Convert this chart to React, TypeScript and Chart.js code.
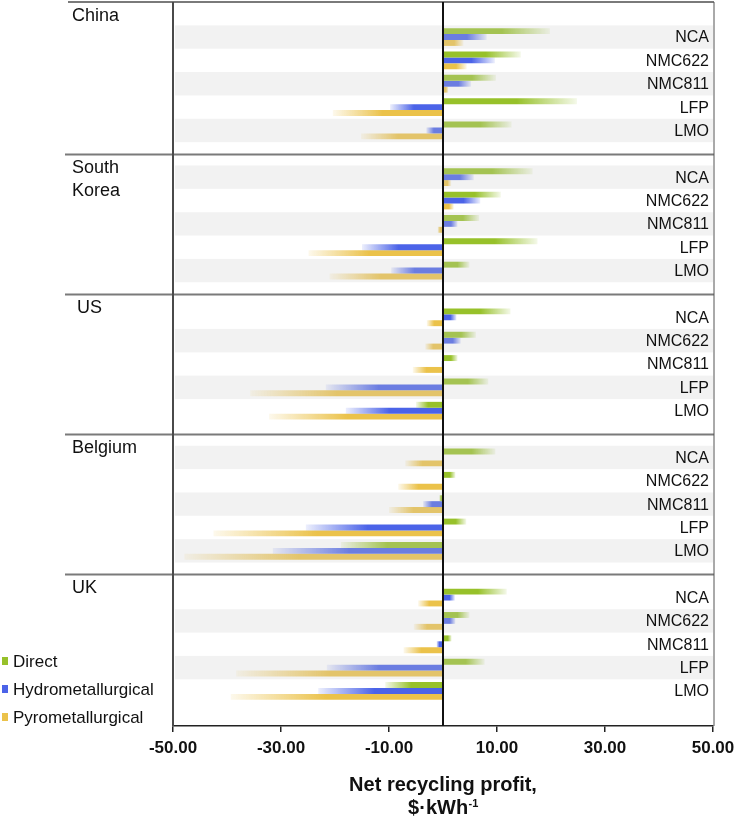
import { useEffect, useRef } from 'react';
import { Chart, registerables } from 'chart.js';

Chart.register(...registerables);

const countries = ['China', 'South Korea', 'US', 'Belgium', 'UK'];
const chemistries = ['NCA', 'NMC622', 'NMC811', 'LFP', 'LMO'];
const seriesNames = ['Direct', 'Hydrometallurgical', 'Pyrometallurgical'];

const direct = [
  19.8, 14.4, 9.8, 24.8, 12.7,
  16.6, 10.7, 6.7, 17.5, 4.9,
  12.5, 6.1, 2.7, 8.4, -5.0,
  9.7, 2.3, -0.7, 4.3, -18.9,
  11.8, 4.9, 1.6, 7.7, -10.7,
];
const hydro = [
  8.1, 9.6, 5.2, -9.8, -3.1,
  5.7, 6.9, 2.7, -15.0, -9.6,
  2.5, 3.3, -0.3, -21.7, -18.0,
  0, 0.2, -3.7, -25.4, -31.5,
  2.2, 2.3, -1.2, -21.5, -23.1,
];
const pyro = [
  3.8, 4.4, 1.0, -20.4, -15.2,
  1.5, 2.0, -1.0, -24.9, -21.0,
  -3.0, -3.3, -5.6, -35.7, -32.2,
  -7.0, -8.3, -10.0, -42.5, -47.9,
  -4.6, -5.4, -7.3, -38.3, -39.3,
];

const xTicks = [-50, -30, -10, 10, 30, 50];

const colors = [
  [151, 193, 42],
  [75, 99, 232],
  [235, 194, 74],
];

// which rows carry the grey band in each country block
const shaded = [
  [1, 0, 1, 0, 1],
  [1, 0, 1, 0, 1],
  [0, 1, 0, 1, 0],
  [1, 0, 1, 0, 1],
  [0, 1, 0, 1, 0],
];

const BLOCK = chemistries.length + 1;
const rowIndex = (c: number, k: number) => 1 + c * BLOCK + k;

// category axis: one blank slot before each country and one at the end
const labels: string[] = [];
for (let c = 0; c < countries.length; c++) {
  labels.push('gap' + c);
  chemistries.forEach((k) => labels.push(countries[c] + ' ' + k));
}
labels.push('gap' + countries.length);

function spread(values: number[]) {
  const out: (number | null)[] = labels.map(() => null);
  values.forEach((v, i) => {
    const c = Math.floor(i / chemistries.length);
    out[rowIndex(c, i % chemistries.length)] = v;
  });
  return out;
}

const rgba = (c: number[], a: number) => `rgba(${c[0]},${c[1]},${c[2]},${a})`;

function barFill(col: number[]) {
  return (ctx: any) => {
    const solid = rgba(col, 1);
    const x = ctx.chart.scales?.x;
    if (ctx.type !== 'data' || !x || ctx.raw == null) return solid;
    const x0 = x.getPixelForValue(0);
    const x1 = x.getPixelForValue(ctx.raw);
    if (!isFinite(x0) || !isFinite(x1) || Math.abs(x1 - x0) < 1) return solid;
    const g = ctx.chart.ctx.createLinearGradient(x0, 0, x1, 0);
    g.addColorStop(0, solid);
    g.addColorStop(0.55, solid);
    g.addColorStop(1, rgba(col, 0.1));
    return g;
  };
}

const FONT = '"Liberation Sans", Arial, sans-serif';

const decorPlugin = {
  id: 'decor',
  afterDatasetsDraw(chart: any) {
    const { ctx, chartArea: a, scales } = chart;
    const x = scales.x;
    const y = scales.y;
    const rowH = y.getPixelForValue(1) - y.getPixelForValue(0);
    const sepY = (c: number) => y.getPixelForValue(c * BLOCK);
    ctx.save();

    // grey bands laid over the bars, slightly transparent
    ctx.fillStyle = 'rgba(203,203,203,0.25)';
    shaded.forEach((row, c) =>
      row.forEach((on, k) => {
        if (!on) return;
        const yc = y.getPixelForValue(rowIndex(c, k));
        ctx.fillRect(a.left + 2, yc - rowH / 2, a.right - a.left - 2, rowH);
      })
    );

    // block separators and frame
    ctx.strokeStyle = '#7a7a7a';
    ctx.lineWidth = 2;
    ctx.beginPath();
    ctx.moveTo(68, a.top);
    ctx.lineTo(a.right + 1, a.top);
    for (let c = 1; c < countries.length; c++) {
      const yy = Math.round(sepY(c)) + 0.5;
      ctx.moveTo(65, yy);
      ctx.lineTo(a.right + 1, yy);
    }
    ctx.stroke();

    ctx.strokeStyle = '#555';
    ctx.lineWidth = 1;
    ctx.beginPath();
    ctx.moveTo(a.right + 1, a.top);
    ctx.lineTo(a.right + 1, a.bottom);
    ctx.stroke();

    ctx.strokeStyle = '#4a4a4a';
    ctx.lineWidth = 2;
    ctx.beginPath();
    ctx.moveTo(a.left, a.top);
    ctx.lineTo(a.left, a.bottom);
    ctx.stroke();

    const zx = Math.round(x.getPixelForValue(0));
    ctx.strokeStyle = '#111';
    ctx.lineWidth = 2;
    ctx.beginPath();
    ctx.moveTo(zx, a.top);
    ctx.lineTo(zx, a.bottom);
    ctx.stroke();

    // country names
    ctx.fillStyle = '#111';
    ctx.textBaseline = 'middle';
    ctx.textAlign = 'left';
    ctx.font = `18px ${FONT}`;
    countries.forEach((name, c) => {
      const top = c === 0 ? a.top : sepY(c);
      const lines = name.split(' ');
      lines.forEach((ln, i) => ctx.fillText(ln, name === 'US' ? 77 : 72, top + 14 + i * 23));
    });

    // chemistry names on the right
    ctx.textAlign = 'right';
    ctx.font = `16px ${FONT}`;
    countries.forEach((_, c) =>
      chemistries.forEach((k, i) => ctx.fillText(k, a.right - 4, y.getPixelForValue(rowIndex(c, i)) + 1))
    );

    // legend
    ctx.textAlign = 'left';
    ctx.font = `17px ${FONT}`;
    seriesNames.forEach((s, i) => {
      const cy = 661 + i * 28;
      ctx.fillStyle = rgba(colors[i], 1);
      ctx.fillRect(2, cy - 4, 6, 8);
      ctx.fillStyle = '#111';
      ctx.fillText(s, 13, cy + 1);
    });

    // axis title, two lines with a superscript unit
    const cx = (a.left + a.right) / 2;
    ctx.textBaseline = 'alphabetic';
    ctx.textAlign = 'center';
    ctx.font = `bold 20px ${FONT}`;
    ctx.fillText('Net recycling profit,', cx, 791);
    const unit = '$·kWh';
    const w1 = ctx.measureText(unit).width;
    ctx.font = `bold 11px ${FONT}`;
    const w2 = ctx.measureText('-1').width;
    ctx.textAlign = 'left';
    const sx = cx - (w1 + w2) / 2;
    ctx.font = `bold 20px ${FONT}`;
    ctx.fillText(unit, sx, 814);
    ctx.font = `bold 11px ${FONT}`;
    ctx.fillText('-1', sx + w1 + 0.5, 807);

    ctx.restore();
  },
};

export default function App() {
  const canvasRef = useRef<HTMLCanvasElement>(null);
  const chartRef = useRef<Chart | null>(null);

  useEffect(() => {
    document.body.style.margin = '0';
    if (!canvasRef.current) return;
    if (chartRef.current) chartRef.current.destroy();

    const series = [direct, hydro, pyro];
    chartRef.current = new Chart(canvasRef.current, {
      type: 'bar',
      data: {
        labels,
        datasets: series.map((vals, i) => ({
          label: seriesNames[i],
          data: spread(vals),
          backgroundColor: barFill(colors[i]),
          borderWidth: 0,
          categoryPercentage: 0.76,
          barPercentage: 1,
        })),
      },
      options: {
        indexAxis: 'y',
        responsive: false,
        animation: false,
        layout: { padding: { left: 173, right: 23, top: 2, bottom: 0 } },
        plugins: {
          legend: { display: false },
          tooltip: { enabled: false },
        },
        scales: {
          x: {
            type: 'linear',
            min: -50,
            max: 50,
            afterBuildTicks: (scale: any) => {
              scale.ticks = xTicks.map((v) => ({ value: v }));
            },
            afterFit: (scale: any) => {
              scale.height = 92;
              scale.paddingLeft = 20;
              scale.paddingRight = 20;
            },
            ticks: {
              color: '#111',
              font: { family: FONT, size: 17, weight: 'bold' },
              padding: 6,
              maxRotation: 0,
              autoSkip: false,
              callback: (v: any) => Number(v).toFixed(2),
            },
            grid: {
              drawOnChartArea: false,
              drawTicks: true,
              tickLength: 6,
              color: '#222',
              lineWidth: 1.5,
            },
            border: { display: true, color: '#222', width: 1.5 },
          },
          y: {
            type: 'category',
            display: false,
          },
        },
      },
      plugins: [decorPlugin],
    } as any);

    return () => {
      if (chartRef.current) {
        chartRef.current.destroy();
        chartRef.current = null;
      }
    };
  }, []);

  return (
    <div style={{ width: 736, height: 818, background: '#fff' }}>
      <canvas ref={canvasRef} width={736} height={818}></canvas>
    </div>
  );
}
